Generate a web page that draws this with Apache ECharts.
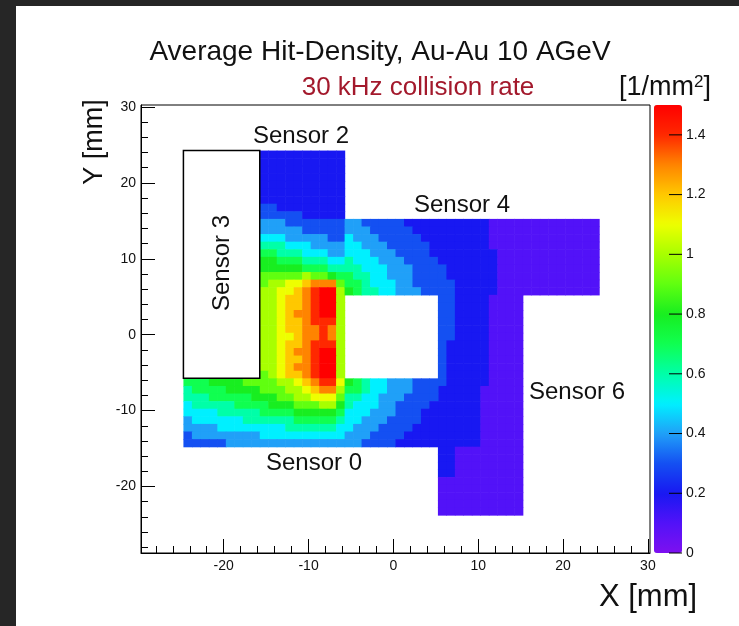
<!DOCTYPE html>
<html><head><meta charset="utf-8">
<script src="https://cdn.jsdelivr.net/npm/echarts@6/dist/echarts.min.js"></script>
<style>
html,body{margin:0;padding:0;width:739px;height:626px;overflow:hidden;background:#262626;}
#panel{position:absolute;left:16px;top:6px;width:723px;height:620px;background:#fff;}
#c{position:absolute;left:0;top:0;width:739px;height:626px;}
</style></head><body><div id="panel"></div><div id="c"></div>
<script>
// ---- data (values in tenths of 1/mm^2, hex digits: 0..F -> 0.0..1.5) ----
const sensor2Origin = [-15.75, 24.25];
const sensor2Rows = [
"2222222222","2222222222","2222222222","2222222222","2222222222",
"2222222222","2222222222","3322222222","3333322222","4443333333",
"4444433333","5554444433","6665554444","7766655544","8877766655",
"8888877766","99999A9987","9AABBCDDD9","AABBCDEFFA","AABCCDEFFA",
"AABCCDEFFA","AABCDDEFFA","AABCCDEEEA","AABCCDDEDA","AABBCDDEDA",
"AABCCDEEEA","AABCDDEFFA","AABCCDEFFA","AABCDDEFFA","9ABCCDEFFA"
];
const sensor4Origin = [-5.75, 15.25];
const sensor4Rows = [
"443333322222222221111111111111",
"444333332222222221111111111111",
"544433333222222221111111111111",
"554443333322222221111111111111",
"555444333322222222111111111111",
"655544433332222222111111111111",
"665554443333222222111111111111",
"766554443333222222111111111111",
"776555443333322222111111111111",
"876655444333322222111111111111"
];
const sensor6Origin = [5.25, 5.25];
const sensor6Rows = [
"3322221111","3322221111","3322221111","3322221111","3322221111",
"3322221111","3222221111","3222221111","3222221111","3222221111",
"3222221111","3222221111","2222211111","2222211111","2222211111",
"2222211111","2222211111","2222211111","2222211111","2222211111",
"2211111111","2211111111","2211111111","2211111111","1111111111",
"1111111111","1111111111","1111111111","1111111111"
];
const sensor0Origin = [-24.75, -5.75];
const sensor0Rows = [
"77788889999AABCDEEB87655444333",
"677778888999AABCDDA77655444333",
"6667777788899AABBB966554443333",
"5666667777888999AA865554433332",
"555566666777788888755544433322",
"455555566666677777655444333322",
"444455555555666666554443333222",
"344444444555555555544433332222",
"333334444444444444444333322222"
];
const sensor3Box = [-24.75, 24.25, -15.75, -5.75];
const xMajorTicks = [-20, -10, 0, 10, 20, 30];
const xMinorTicks = [-28,-26,-24,-22,-18,-16,-14,-12,-8,-6,-4,-2,2,4,6,8,12,14,16,18,22,24,26,28];
const yMajorTicks = [-20, -10, 0, 10, 20, 30];
const yMinorTicks = [-28,-26,-24,-22,-18,-16,-14,-12,-8,-6,-4,-2,2,4,6,8,12,14,16,18,22,24,26,28];
const zTicks = [0, 0.2, 0.4, 0.6, 0.8, 1, 1.2, 1.4];
const zTickLabels = ['0', '0.2', '0.4', '0.6', '0.8', '1', '1.2', '1.4'];
const levelColors = ['#7d10f0','#5212f8','#1818f2','#1450f2','#20a0f8','#00f0ff','#00ffa8','#10ff50',
  '#18ee20','#60ff10','#a8ff00','#eeff00','#ffc800','#ff8400','#ff2800','#ff0000'];

function cells(origin, rows) {
  const out = [];
  rows.forEach((row, i) => {
    for (let k = 0; k < row.length; k++) {
      out.push([origin[0] + k + 0.5, origin[1] - i - 0.5, parseInt(row[k], 16) / 10]);
    }
  });
  return out;
}
const heatData = [].concat(
  cells(sensor2Origin, sensor2Rows), cells(sensor4Origin, sensor4Rows),
  cells(sensor6Origin, sensor6Rows), cells(sensor0Origin, sensor0Rows));

const FONT = 'Liberation Sans, Arial, Helvetica, sans-serif';
const chart = echarts.init(document.getElementById('c'), null, {renderer: 'canvas'});
const tickStyle = {color: '#000', width: 1};
function txt(x, y, s, size, extra, rot) {
  const el = {type: 'text', x: x, y: y, z: 100,
    style: Object.assign({text: s, fontSize: size, fontFamily: FONT, fill: '#111',
      align: 'center', verticalAlign: 'middle'}, extra || {})};
  if (rot) el.rotation = rot;
  return el;
}
const option = {
  animation: false,
  backgroundColor: 'transparent',
  grid: [
    {left: 141, top: 105, width: 509, height: 448, show: true, borderColor: '#000', borderWidth: 1, backgroundColor: 'transparent'},
    {left: 654, top: 105, width: 28, height: 448, show: false}
  ],
  xAxis: [
    {gridIndex: 0, type: 'value', min: -29.75, max: 30.25, position: 'bottom',
      axisLine: {show: true, onZero: false, lineStyle: {color: '#000'}},
      axisTick: {show: true, inside: true, length: 14, customValues: xMajorTicks, lineStyle: tickStyle},
      axisLabel: {customValues: xMajorTicks, fontSize: 14, fontFamily: FONT, color: '#111', margin: 6},
      splitLine: {show: false}},
    {gridIndex: 0, type: 'value', min: -29.75, max: 30.25, position: 'bottom',
      axisLine: {show: false, onZero: false},
      axisTick: {show: true, inside: true, length: 7, customValues: xMinorTicks, lineStyle: tickStyle},
      axisLabel: {show: false}, splitLine: {show: false}},
    {gridIndex: 1, type: 'value', min: 0, max: 1, show: false}
  ],
  yAxis: [
    {gridIndex: 0, type: 'value', min: -28.75, max: 30.25, position: 'left',
      axisLine: {show: true, onZero: false, lineStyle: {color: '#000'}},
      axisTick: {show: true, inside: true, length: 14, customValues: yMajorTicks, lineStyle: tickStyle},
      axisLabel: {customValues: yMajorTicks, fontSize: 14, fontFamily: FONT, color: '#111', margin: 5},
      splitLine: {show: false}},
    {gridIndex: 0, type: 'value', min: -28.75, max: 30.25, position: 'left',
      axisLine: {show: false, onZero: false},
      axisTick: {show: true, inside: true, length: 7, customValues: yMinorTicks, lineStyle: tickStyle},
      axisLabel: {show: false}, splitLine: {show: false}},
    {gridIndex: 1, type: 'value', min: 0, max: 1.5, show: false}
  ],
  visualMap: {
    type: 'continuous', min: 0, max: 1.5, dimension: 2, seriesIndex: 0,
    inRange: {color: levelColors}, left: 654, top: 105, itemWidth: 28, itemHeight: 448,
    calculable: false, hoverLink: false, padding: 0, orient: 'vertical', text: null, showLabel: false
  },
  series: [
    {type: 'custom', xAxisIndex: 0, yAxisIndex: 0, data: heatData, silent: true,
      encode: {x: 0, y: 1},
      renderItem: function (params, api) {
        const x = api.value(0), y = api.value(1);
        const p0 = api.coord([x - 0.5, y + 0.5]);
        const p1 = api.coord([x + 0.5, y - 0.5]);
        return {type: 'rect', shape: {x: p0[0], y: p0[1], width: p1[0] - p0[0] + 0.6, height: p1[1] - p0[1] + 0.6},
          style: {fill: api.visual('color')}};
      }},
    {type: 'custom', xAxisIndex: 0, yAxisIndex: 0, data: [sensor3Box], silent: true,
      encode: {x: [0, 2], y: [1, 3]},
      renderItem: function (params, api) {
        const p0 = api.coord([api.value(0), api.value(1)]);
        const p1 = api.coord([api.value(2), api.value(3)]);
        return {type: 'rect', shape: {x: p0[0], y: p0[1], width: p1[0] - p0[0], height: p1[1] - p0[1]},
          style: {fill: 'none', stroke: '#000', lineWidth: 1.5}};
      }},
    // colour-bar scale: tick marks inside the bar and labels to its right
    {type: 'custom', xAxisIndex: 2, yAxisIndex: 2, z: 20, silent: true,
      data: zTicks.map((v, i) => [1, v, i]), encode: {x: 0, y: 1},
      renderItem: function (params, api) {
        const p = api.coord([api.value(0), api.value(1)]);
        return {type: 'group', children: [
          {type: 'line', shape: {x1: p[0] - 13, y1: p[1], x2: p[0], y2: p[1]}, style: {stroke: '#000', lineWidth: 1}},
          {type: 'text', x: p[0] + 4, y: p[1], style: {text: zTickLabels[api.value(2)], fontSize: 14,
            fontFamily: FONT, fill: '#111', align: 'left', verticalAlign: 'middle'}}
        ]};
      }}
  ],
  graphic: [
    txt(380, 52, 'Average Hit-Density, Au-Au 10 AGeV', 28),
    txt(418, 88, '30 kHz collision rate', 26, {fill: '#a3192c'}),
    {type: 'text', x: 619, y: 88, z: 100, style: {text: '[1/mm{s|2}]', fontSize: 27, fontFamily: FONT, fill: '#111',
      verticalAlign: 'middle', align: 'left', rich: {s: {fontSize: 17, fontFamily: FONT, verticalAlign: 'top', padding: [0,0,12,0]}}}},
    txt(648, 597, 'X [mm]', 31),
    txt(95, 142, 'Y [mm]', 27, {}, Math.PI / 2),
    txt(301, 136, 'Sensor 2', 24),
    txt(462, 205, 'Sensor 4', 24),
    txt(577, 392, 'Sensor 6', 24),
    txt(314, 463, 'Sensor 0', 24),
    txt(222, 263, 'Sensor 3', 24, {}, Math.PI / 2)
  ]
};
chart.setOption(option);
</script></body></html>
